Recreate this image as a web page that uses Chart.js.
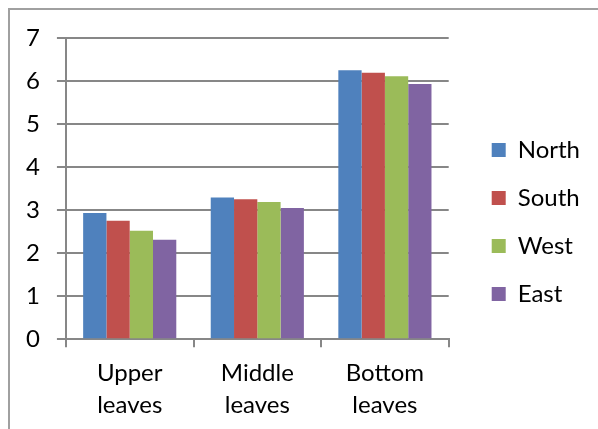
<!DOCTYPE html>
<html>
<head>
<meta charset="utf-8">
<script src="https://cdn.jsdelivr.net/npm/chart.js@4"></script>
<style>
  html, body { margin: 0; padding: 0; background: #ffffff; }
  #wrap { width: 598px; height: 429px; position: relative; }
</style>
</head>
<body>
<div id="wrap"><canvas id="chart" width="598" height="429"></canvas></div>
<script>
// Leaf position categories (two-line labels)
const categories = [["Upper", "leaves"], ["Middle", "leaves"], ["Bottom", "leaves"]];

// Values per orientation
const north = [2.93, 3.29, 6.25];
const south = [2.75, 3.25, 6.19];
const west  = [2.52, 3.19, 6.11];
const east  = [2.31, 3.05, 5.93];

// Value axis range
const yMin = 0;
const yMax = 7;
const yStep = 1;

const seriesNames = ["North", "South", "West", "East"];
const seriesColors = ["#4F81BD", "#C0504D", "#9BBB59", "#8064A2"];
const seriesValues = [north, south, west, east];

const FONT = "Lato, 'Liberation Sans', sans-serif";
const GRID = "#878787";

// Extra room between the plot and the legend, and a small upward nudge of the legend
const LEGEND_GAP = 19;
const LEGEND_LIFT = 7;

// Frame around the chart object (left and top edges)
const framePlugin = {
  id: "frame",
  beforeDraw(chart) {
    const ctx = chart.ctx;
    ctx.save();
    ctx.strokeStyle = "#a0a0a0";
    ctx.lineWidth = 2;
    ctx.beginPath();
    ctx.moveTo(9, chart.height);
    ctx.lineTo(9, 9);
    ctx.lineTo(chart.width, 9);
    ctx.stroke();
    ctx.restore();
  }
};

// Widen the legend box on its left side so the plot area ends further from the keys
const legendGapPlugin = {
  id: "legendGap",
  beforeInit(chart) {
    const lg = chart.legend;
    if (!lg) return;
    const fit = lg.fit.bind(lg);
    lg.fit = function () {
      fit();
      this.width += LEGEND_GAP;
    };
  },
  afterLayout(chart) {
    const lg = chart.legend;
    if (!lg) return;
    lg.left += LEGEND_GAP;
    lg.top -= LEGEND_LIFT;
    lg.bottom -= LEGEND_LIFT;
  }
};

new Chart(document.getElementById("chart"), {
  type: "bar",
  data: {
    labels: categories,
    datasets: seriesNames.map((name, i) => ({
      label: name,
      data: seriesValues[i],
      backgroundColor: seriesColors[i],
      borderWidth: 0,
      categoryPercentage: 0.73,
      barPercentage: 1.0
    }))
  },
  options: {
    responsive: false,
    animation: false,
    devicePixelRatio: 1,
    layout: { padding: { left: 9, top: 38, right: 8, bottom: 9 } },
    plugins: {
      tooltip: { enabled: false },
      legend: {
        position: "right",
        align: "center",
        labels: {
          boxWidth: 14,
          boxHeight: 14,
          padding: 24,
          color: "#000000",
          font: { family: FONT, size: 24 }
        }
      }
    },
    scales: {
      x: {
        offset: true,
        grid: {
          offset: true,
          drawOnChartArea: false,
          drawTicks: true,
          tickLength: 8,
          color: GRID,
          lineWidth: 2
        },
        border: { display: true, color: GRID, width: 2 },
        ticks: {
          color: "#000000",
          padding: 10,
          maxRotation: 0,
          font: { family: FONT, size: 24, lineHeight: 1.33 }
        },
        afterFit(scale) {
          scale.height -= 11;
        }
      },
      y: {
        min: yMin,
        max: yMax,
        grid: {
          color: GRID,
          lineWidth: 2,
          drawTicks: true,
          tickLength: 9
        },
        border: { display: true, color: GRID, width: 2 },
        ticks: {
          stepSize: yStep,
          color: "#000000",
          padding: 17,
          font: { family: FONT, size: 24 }
        }
      }
    }
  },
  plugins: [framePlugin, legendGapPlugin]
});
</script>
</body>
</html>
